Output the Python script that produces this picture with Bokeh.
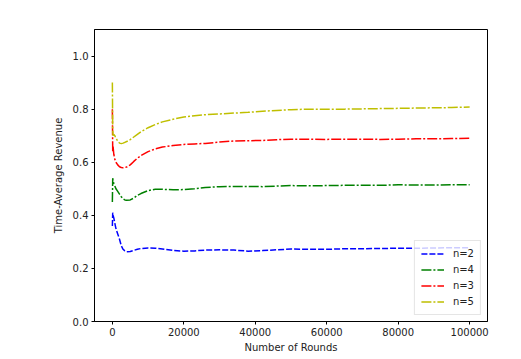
from bokeh.plotting import figure
from bokeh.models import Range1d, FixedTicker, Legend, LegendItem, CustomJSTickFormatter
from bokeh.embed import file_html
from bokeh.resources import INLINE

rounds = [1, 100, 200, 400, 700, 1000, 1500, 2000, 2500, 3000, 3500, 4000, 5000, 6000,
          7000, 8000, 10000, 12000, 14000, 17000, 20000, 23000, 26000, 30000, 34000,
          38000, 42000, 46000, 50000, 55000, 60000, 65000, 70000, 75000, 80000, 85000,
          90000, 95000, 100000]

rev_n2 = [0.36, 0.41, 0.40, 0.39, 0.37, 0.35, 0.33, 0.31, 0.285, 0.272, 0.266, 0.263, 0.264,
          0.268, 0.272, 0.275, 0.277, 0.276, 0.273, 0.268, 0.265, 0.266, 0.269, 0.270, 0.269,
          0.265, 0.267, 0.270, 0.273, 0.272, 0.272, 0.274, 0.274, 0.275, 0.276, 0.276,
          0.277, 0.278, 0.278]

rev_n4 = [0.45, 0.54, 0.53, 0.52, 0.51, 0.50, 0.49, 0.48, 0.47, 0.462, 0.458, 0.457, 0.458,
          0.465, 0.475, 0.482, 0.493, 0.498, 0.498, 0.496, 0.497, 0.500, 0.505, 0.508, 0.509,
          0.509, 0.508, 0.510, 0.512, 0.511, 0.512, 0.513, 0.513, 0.513, 0.515, 0.514,
          0.514, 0.515, 0.515]

rev_n3 = [0.80, 0.64, 0.66, 0.63, 0.61, 0.60, 0.59, 0.583, 0.58, 0.579, 0.58, 0.582, 0.590,
          0.603, 0.615, 0.625, 0.640, 0.650, 0.657, 0.663, 0.667, 0.669, 0.671, 0.676, 0.680,
          0.681, 0.682, 0.685, 0.687, 0.687, 0.686, 0.687, 0.687, 0.686, 0.687, 0.688,
          0.688, 0.689, 0.690]

rev_n5 = [0.90, 0.72, 0.70, 0.705, 0.70, 0.69, 0.68, 0.672, 0.670, 0.672, 0.675, 0.678, 0.685,
          0.695, 0.705, 0.715, 0.730, 0.742, 0.752, 0.762, 0.770, 0.775, 0.779, 0.782, 0.785,
          0.788, 0.792, 0.795, 0.798, 0.800, 0.800, 0.800, 0.801, 0.802, 0.803, 0.804,
          0.805, 0.806, 0.808]

series = [
    ("n=2", rev_n2, "#0000ff", "6 2"),
    ("n=4", rev_n4, "#008000", "10 2 2 2"),
    ("n=3", rev_n3, "#ff0000", "10 2 2 2"),
    ("n=5", rev_n5, "#bfbf00", "10 2 2 2"),
]

FONT = "DejaVu Sans"

p = figure(width=521, height=359, output_backend="svg", toolbar_location=None,
           x_range=Range1d(-5000, 105000), y_range=Range1d(0, 1.1),
           min_border_left=94, min_border_right=34, min_border_top=29, min_border_bottom=38)
p.grid.visible = False
p.outline_line_color = "black"
p.outline_line_width = 1
p.background_fill_color = "white"
p.border_fill_color = "white"

items = []
for label, ys, color, dash in series:
    r = p.line(rounds, ys, line_color=color, line_width=1.5, line_dash=dash)
    items.append(LegendItem(label=label, renderers=[r]))

p.xaxis.ticker = FixedTicker(ticks=[0, 20000, 40000, 60000, 80000, 100000])
p.yaxis.ticker = FixedTicker(ticks=[0.0, 0.2, 0.4, 0.6, 0.8, 1.0])
p.yaxis.formatter = CustomJSTickFormatter(code="return tick.toFixed(1);")
p.xaxis.formatter = CustomJSTickFormatter(code="return tick.toFixed(0);")

for ax in (p.xaxis[0], p.yaxis[0]):
    ax.major_label_text_font = FONT
    ax.major_label_text_font_size = "10px"
    ax.major_label_text_color = "#222222"
    ax.axis_label_text_font = FONT
    ax.axis_label_text_font_size = "10px"
    ax.axis_label_text_font_style = "normal"
    ax.axis_label_text_color = "#222222"
    ax.minor_tick_line_color = None
    ax.major_tick_out = 3
    ax.major_tick_in = 0
    ax.axis_line_color = "black"
    ax.major_tick_line_color = "black"

p.xaxis.axis_label = "Number of Rounds"
p.yaxis.axis_label = "Time-Average Revenue"
p.xaxis.major_label_standoff = 3
p.xaxis.axis_label_standoff = 3
p.yaxis.major_label_standoff = 3
p.yaxis.axis_label_standoff = 6

legend = Legend(items=items, location="bottom_right")
legend.label_text_font = FONT
legend.label_text_font_size = "10px"
legend.label_text_color = "#222222"
legend.glyph_width = 23
legend.glyph_height = 13
legend.label_height = 13
legend.label_standoff = 9
legend.spacing = 3
legend.padding = 6
legend.margin = 6
legend.border_line_color = "#cccccc"
legend.background_fill_alpha = 0.8
p.add_layout(legend, "center")

open("out.html", "w").write(file_html(p, INLINE))
